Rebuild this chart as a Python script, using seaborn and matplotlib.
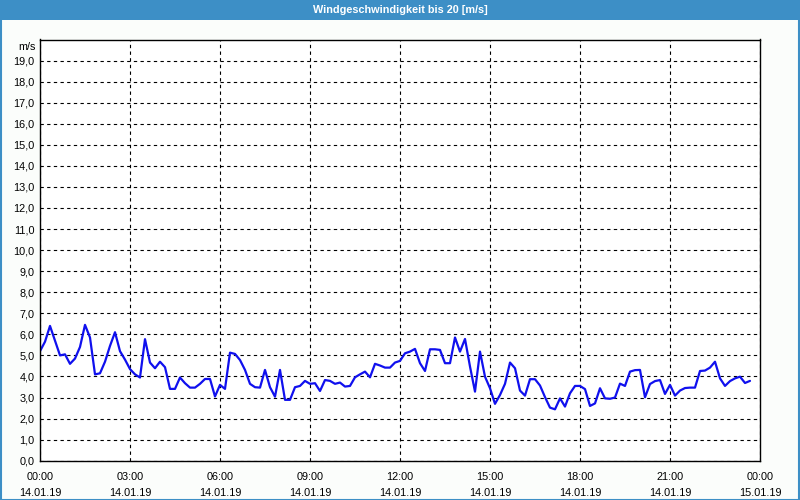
import numpy as np
import pandas as pd
import matplotlib
matplotlib.use("Agg")
import matplotlib.pyplot as plt
import matplotlib.dates as mdates
from matplotlib.patches import Rectangle
import seaborn as sns

title = "Windgeschwindigkeit bis 20 [m/s]"
unit_label = "m/s"
start_time = "2019-01-14 00:00"
end_time = "2019-01-15 00:00"
step = "10min"

wind_speed = [
    5.2, 5.65, 6.4, 5.7, 5.0, 5.05, 4.6, 4.85, 5.4, 6.45,
    5.85, 4.1, 4.15, 4.7, 5.45, 6.1, 5.2, 4.8, 4.35, 4.1,
    3.95, 5.77, 4.66, 4.39, 4.7, 4.44, 3.41, 3.41, 3.95, 3.68,
    3.47, 3.47, 3.65, 3.88, 3.88, 3.05, 3.6, 3.41, 5.13, 5.07,
    4.78, 4.31, 3.65, 3.49, 3.47, 4.31, 3.49, 3.04, 4.31, 2.89,
    2.89, 3.49, 3.55, 3.79, 3.65, 3.68, 3.31, 3.83, 3.79, 3.65,
    3.71, 3.52, 3.55, 3.96, 4.1, 4.23, 3.96, 4.6, 4.52, 4.42,
    4.42, 4.66, 4.74, 5.1, 5.18, 5.31, 4.63, 4.26, 5.29, 5.29,
    5.26, 4.63, 4.63, 5.85, 5.18, 5.78, 4.47, 3.28, 5.18, 3.99,
    3.44, 2.7, 3.12, 3.65, 4.66, 4.39, 3.33, 3.09, 3.87, 3.87,
    3.57, 3.02, 2.52, 2.44, 2.96, 2.57, 3.2, 3.55, 3.55, 3.4,
    2.6, 2.72, 3.44, 2.96, 2.94, 3.0, 3.66, 3.55, 4.23, 4.3,
    4.31, 3.01, 3.64, 3.78, 3.83, 3.17, 3.6, 3.09, 3.33, 3.45,
    3.47, 3.47, 4.26, 4.28, 4.42, 4.7, 3.91, 3.55, 3.78, 3.91,
    3.99, 3.69, 3.79,
]
y_ticks = list(range(0, 20))

times = pd.date_range(start=start_time, periods=len(wind_speed), freq=step)
df = pd.DataFrame({"time": times, "speed": wind_speed})

sns.set_style("white")
plt.rcParams["font.family"] = ["Liberation Sans", "DejaVu Sans"]

fig = plt.figure(figsize=(8, 5), dpi=100, facecolor="#fbfdfb")
# title bar
fig.patches.append(Rectangle((0, 1 - 20 / 500), 1, 20 / 500, transform=fig.transFigure,
                             facecolor="#3d8fc6", edgecolor="none", zorder=0))
# outer border
fig.patches.append(Rectangle((0.001, 0.001), 0.998, 0.998, transform=fig.transFigure,
                             facecolor="none", edgecolor="#3d8fc6", linewidth=1.5, zorder=1))
fig.text(0.5, 1 - 10 / 500, title, color="white", fontsize=7.8, fontweight="bold",
         ha="center", va="center")

ax = fig.add_axes([0.05, 0.0786, 0.9, 0.8424])
ax.set_facecolor("white")
sns.lineplot(data=df, x="time", y="speed", ax=ax, color="#1010ee", linewidth=1.6)

ax.set_ylim(0, 20)
ax.set_xlim(pd.Timestamp(start_time), pd.Timestamp(end_time))
ax.set_yticks(y_ticks)
ax.set_yticklabels([f"{v:.1f}".replace(".", ",") for v in y_ticks])
ax.xaxis.set_major_locator(mdates.HourLocator(byhour=range(0, 24, 3)))
ax.xaxis.set_minor_locator(mdates.HourLocator())
ax.xaxis.set_major_formatter(mdates.DateFormatter("%H:%M\n%d.%m.%y"))

ax.grid(True, which="major", color="black", linestyle=(0, (3, 3)), linewidth=0.8)
ax.tick_params(axis="y", length=0, pad=4, labelsize=7.8, colors="black")
ax.tick_params(axis="x", which="major", length=4, width=0.8, pad=4, labelsize=7.8,
               direction="out", colors="black")
ax.tick_params(axis="x", which="minor", length=4, width=0.8, direction="out", color="black")
for lbl in ax.get_xticklabels():
    lbl.set_linespacing(1.75)
for s in ax.spines.values():
    s.set_color("black")
    s.set_linewidth(1.0)
ax.set_xlabel("")
ax.set_ylabel("")
ax.text(-0.006, 0.995, unit_label, transform=ax.transAxes, ha="right", va="top",
        fontsize=7.8, color="black")

fig.savefig("out.png", dpi=100, facecolor=fig.get_facecolor())
